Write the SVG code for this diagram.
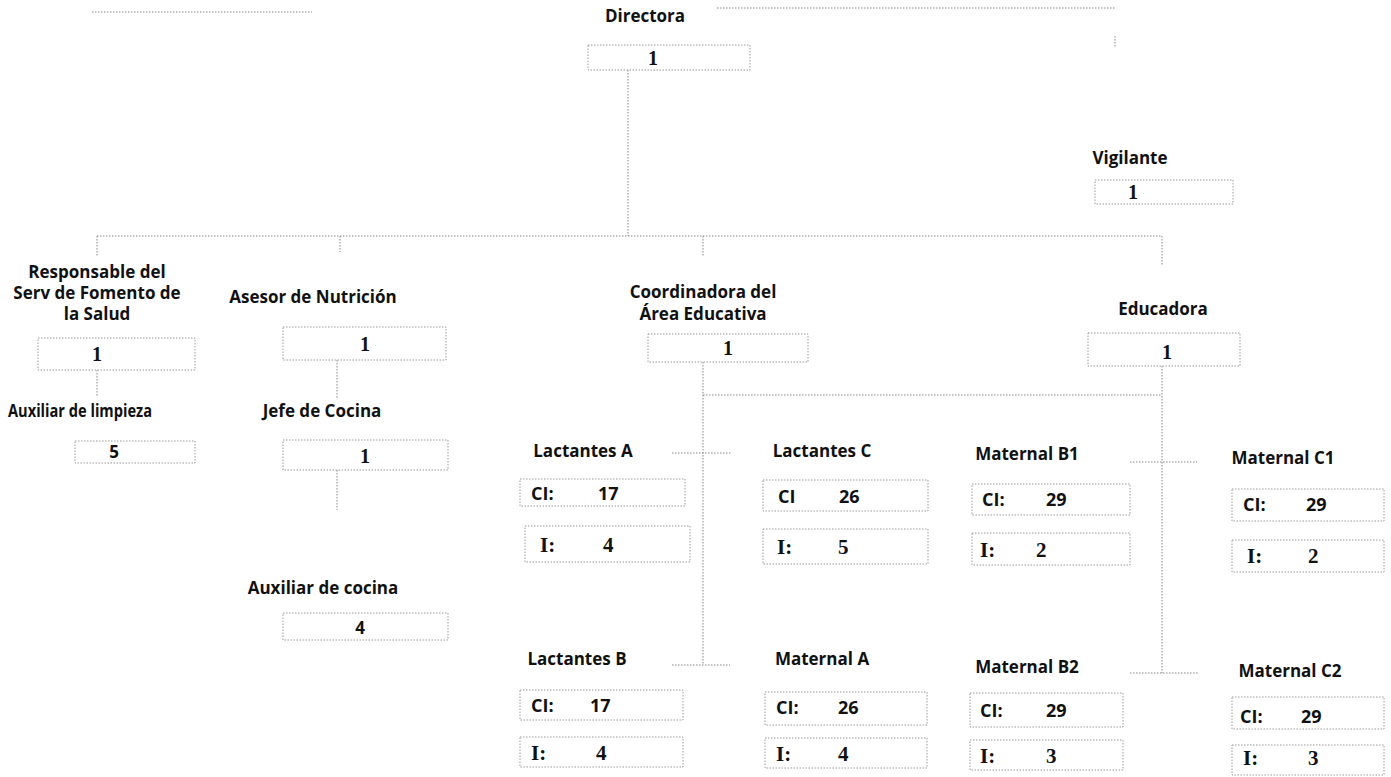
<svg xmlns="http://www.w3.org/2000/svg" width="1391" height="777" viewBox="0 0 1391 777">
<style>
.lbl{font-family:"Open Sans","Liberation Sans",sans-serif;font-weight:700;font-size:17px;fill:#111;text-anchor:middle}
.box{fill:none;stroke:#999;stroke-width:1;stroke-dasharray:1.5 1.5}
.num{font-family:"Liberation Serif",serif;font-weight:700;font-size:20px;fill:#111;text-anchor:middle}
.nums{font-family:"Open Sans","Liberation Sans",sans-serif;font-weight:700;font-size:17px;fill:#111;text-anchor:middle}
.ci{font-family:"Open Sans","Liberation Sans",sans-serif;font-weight:700;font-size:18px;fill:#111}
.iv{font-family:"Liberation Serif",serif;font-weight:700;font-size:21px;fill:#111}
.con{fill:none;stroke:#888;stroke-width:1;stroke-dasharray:1.5 1.5}
</style>
<rect width="1391" height="777" fill="#fff"/>
<g id="decor">
<line class="con" x1="92" y1="12" x2="312" y2="12"/>
<line class="con" x1="717" y1="8" x2="1115" y2="8"/>
<line class="con" x1="1115" y1="36" x2="1115" y2="48"/>
</g>
<g id="connectors">
<line class="con" x1="628" y1="70" x2="628" y2="236"/>
<line class="con" x1="97" y1="236" x2="1162" y2="236"/>
<line class="con" x1="97" y1="236" x2="97" y2="256"/>
<line class="con" x1="340" y1="236" x2="340" y2="252"/>
<line class="con" x1="703" y1="236" x2="703" y2="256"/>
<line class="con" x1="1162" y1="236" x2="1162" y2="266"/>
<line class="con" x1="97" y1="370" x2="97" y2="396"/>
<line class="con" x1="337" y1="360" x2="337" y2="398"/>
<line class="con" x1="337" y1="470" x2="337" y2="510"/>
<line class="con" x1="703" y1="362" x2="703" y2="665"/>
<line class="con" x1="703" y1="395" x2="1162" y2="395"/>
<line class="con" x1="672" y1="453" x2="732" y2="453"/>
<line class="con" x1="672" y1="665" x2="730" y2="665"/>
<line class="con" x1="1162" y1="366" x2="1162" y2="673"/>
<line class="con" x1="1130" y1="462" x2="1197" y2="462"/>
<line class="con" x1="1130" y1="673" x2="1198" y2="673"/>
</g>
<g id="directora">
<text class="lbl" x="645" y="22">Directora</text>
<rect class="box" x="588" y="45" width="162" height="25"/>
<text class="num" x="653" y="65">1</text>
</g>
<g id="vigilante">
<text class="lbl" x="1130" y="164">Vigilante</text>
<rect class="box" x="1095" y="180" width="138" height="24"/>
<text class="num" x="1133" y="199">1</text>
</g>
<g id="responsable">
<text class="lbl" x="97" y="278">Responsable del</text>
<text class="lbl" x="97" y="299">Serv de Fomento de</text>
<text class="lbl" x="97" y="320">la Salud</text>
<rect class="box" x="38" y="338" width="157" height="32"/>
<text class="num" x="97" y="361">1</text>
</g>
<g id="asesor">
<text class="lbl" x="313" y="303">Asesor de Nutrición</text>
<rect class="box" x="283" y="327" width="163" height="33"/>
<text class="num" x="365" y="351">1</text>
</g>
<g id="coordinadora">
<text class="lbl" x="703" y="298">Coordinadora del</text>
<text class="lbl" x="703" y="320">Área Educativa</text>
<rect class="box" x="648" y="334" width="160" height="28"/>
<text class="num" x="728" y="355">1</text>
</g>
<g id="educadora">
<text class="lbl" x="1163" y="315">Educadora</text>
<rect class="box" x="1088" y="333" width="152" height="33"/>
<text class="num" x="1167" y="359">1</text>
</g>
<g id="aux-limpieza">
<text class="lbl" x="80" y="417" textLength="144" lengthAdjust="spacingAndGlyphs">Auxiliar de limpieza</text>
<rect class="box" x="75" y="441" width="120" height="22"/>
<text class="nums" x="114" y="458">5</text>
</g>
<g id="jefe-cocina">
<text class="lbl" x="322" y="417">Jefe de Cocina</text>
<rect class="box" x="283" y="440" width="165" height="30"/>
<text class="num" x="365" y="463">1</text>
</g>
<g id="aux-cocina">
<text class="lbl" x="323" y="594">Auxiliar de cocina</text>
<rect class="box" x="283" y="613" width="165" height="27"/>
<text class="nums" x="360" y="634">4</text>
</g>
<g id="lactantes-a">
<text class="lbl" x="583" y="457">Lactantes A</text>
<rect class="box" x="520" y="479" width="165" height="27"/>
<text class="ci" x="531" y="500">CI:</text>
<text class="ci" x="598" y="500">17</text>
<rect class="box" x="525" y="526" width="165" height="36"/>
<text class="iv" x="540" y="552">I:</text>
<text class="iv" x="603" y="552">4</text>
</g>
<g id="lactantes-c">
<text class="lbl" x="822" y="457">Lactantes C</text>
<rect class="box" x="763" y="480" width="165" height="31"/>
<text class="ci" x="778" y="503">CI</text>
<text class="ci" x="839" y="503">26</text>
<rect class="box" x="763" y="529" width="165" height="35"/>
<text class="iv" x="777" y="554">I:</text>
<text class="iv" x="838" y="554">5</text>
</g>
<g id="maternal-b1">
<text class="lbl" x="1027" y="460">Maternal B1</text>
<rect class="box" x="972" y="484" width="158" height="31"/>
<text class="ci" x="982" y="506">CI:</text>
<text class="ci" x="1046" y="506">29</text>
<rect class="box" x="972" y="533" width="158" height="32"/>
<text class="iv" x="980" y="557">I:</text>
<text class="iv" x="1036" y="557">2</text>
</g>
<g id="maternal-c1">
<text class="lbl" x="1283" y="464">Maternal C1</text>
<rect class="box" x="1232" y="489" width="152" height="32"/>
<text class="ci" x="1243" y="511">CI:</text>
<text class="ci" x="1306" y="511">29</text>
<rect class="box" x="1232" y="540" width="152" height="32"/>
<text class="iv" x="1247" y="563">I:</text>
<text class="iv" x="1308" y="563">2</text>
</g>
<g id="lactantes-b">
<text class="lbl" x="577" y="665">Lactantes B</text>
<rect class="box" x="520" y="690" width="163" height="30"/>
<text class="ci" x="531" y="712">CI:</text>
<text class="ci" x="590" y="712">17</text>
<rect class="box" x="520" y="737" width="163" height="30"/>
<text class="iv" x="531" y="760">I:</text>
<text class="iv" x="596" y="760">4</text>
</g>
<g id="maternal-a">
<text class="lbl" x="822" y="665">Maternal A</text>
<rect class="box" x="765" y="692" width="162" height="33"/>
<text class="ci" x="776" y="714">CI:</text>
<text class="ci" x="838" y="714">26</text>
<rect class="box" x="765" y="738" width="162" height="30"/>
<text class="iv" x="776" y="761">I:</text>
<text class="iv" x="838" y="761">4</text>
</g>
<g id="maternal-b2">
<text class="lbl" x="1027" y="673">Maternal B2</text>
<rect class="box" x="970" y="693" width="153" height="34"/>
<text class="ci" x="980" y="717">CI:</text>
<text class="ci" x="1046" y="717">29</text>
<rect class="box" x="970" y="740" width="153" height="30"/>
<text class="iv" x="980" y="763">I:</text>
<text class="iv" x="1046" y="763">3</text>
</g>
<g id="maternal-c2">
<text class="lbl" x="1290" y="677">Maternal C2</text>
<rect class="box" x="1232" y="697" width="152" height="32"/>
<text class="ci" x="1240" y="723">CI:</text>
<text class="ci" x="1301" y="723">29</text>
<rect class="box" x="1232" y="745" width="152" height="30"/>
<text class="iv" x="1243" y="765">I:</text>
<text class="iv" x="1308" y="765">3</text>
</g>
</svg>
